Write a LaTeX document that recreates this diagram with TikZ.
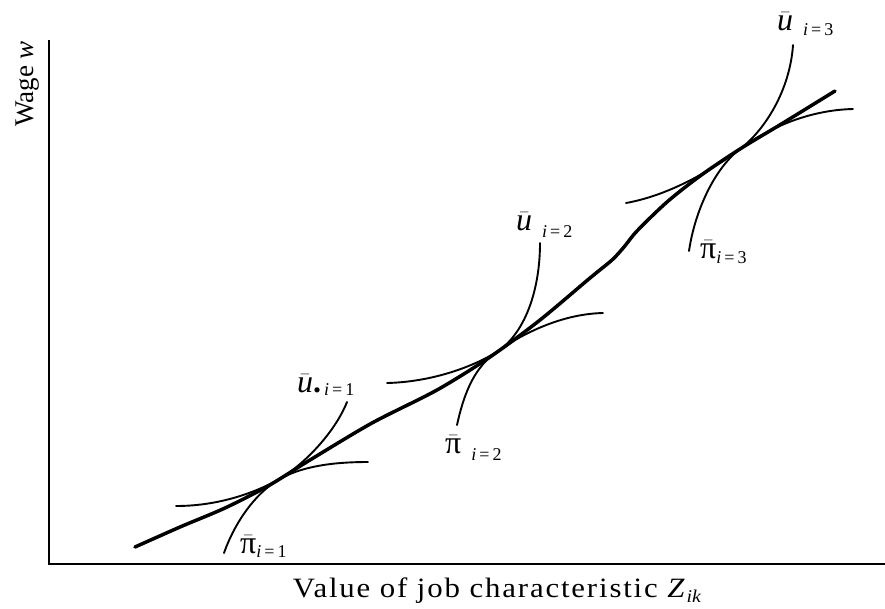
\documentclass[tikz,border=0pt]{standalone}
\usepackage{fontspec}
\setmainfont{Liberation Serif}
\newcommand{\myubar}{$\bar{\mbox{\itshape u}}$}
\newcommand{\mypibar}{$\bar{\mbox{π}}$}
\newcommand{\mysub}[2]{\raisebox{-#1pt}{\fontsize{18}{18}\selectfont #2}}
\begin{document}
\begin{tikzpicture}[x=1pt,y=-1pt,
  axisline/.style={line width=1.4pt},
  hedonic/.style={line width=3.5pt, line cap=round},
  thincurve/.style={line width=1.9pt, line cap=round},
  lbl/.style={font=\fontsize{32}{32}\selectfont, inner sep=0pt, anchor=base west}]
\useasboundingbox (0,0) rectangle (885,608);
% axes
\coordinate (top) at (49,40);
\coordinate (origin) at (49,564);
\coordinate (right) at (885,564);
\draw[axisline] (top) -- (origin) -- (right);
\node[font=\fontsize{27}{27}\selectfont, inner sep=0pt, rotate=90, anchor=base] (ylab) at (33,84) {Wage \textit{w}};
\node[font=\fontsize{28}{28}\selectfont\addfontfeature{LetterSpace=6}, inner sep=0pt, anchor=base, xscale=1.1] (xlab) at (497,597) {Value of job characteristic \textit{Z}\raisebox{-5pt}{\fontsize{18}{18}\selectfont\addfontfeature{LetterSpace=0}\textit{ik}}};
% hedonic wage curve
\draw[hedonic] plot[smooth, tension=0.5] coordinates {(135,547) (180,527) (225,508) (268,486) (310,460) (372,423) (437,390) (490,357) (540,320) (590,278) (612,260) (624,247) (637,231) (667,202) (700,176) (740,149) (783,123) (835,91)};
% i=1
\coordinate (T1) at (278,480);
\draw[thincurve] (176,506) .. controls (215,506) and (250,495) .. (T1) .. controls (305,464) and (335,432) .. (347,402);
\draw[thincurve] (224,553) .. controls (235,522) and (255,494) .. (T1) .. controls (300,467) and (330,462) .. (368,462);
% i=2
\coordinate (T2) at (495,353);
\draw[thincurve] (387,383) .. controls (430,382) and (470,368) .. (T2) .. controls (525,335) and (540,290) .. (540,243);
\draw[thincurve] (457,425) .. controls (463,398) and (472,370) .. (T2) .. controls (520,335) and (560,314) .. (603,313);
% i=3
\coordinate (T3) at (740,149);
\draw[thincurve] (626,203) .. controls (665,196) and (705,175) .. (T3) .. controls (765,130) and (790,90) .. (793,45);
\draw[thincurve] (689,251) .. controls (695,210) and (715,168) .. (T3) .. controls (770,127) and (810,110) .. (853,109);
% labels
\node[lbl] (u3) at (777,30) {\myubar\hspace{10pt}\mysub{5}{\textit{i}\,=\,3}};
\node[lbl] (p3) at (700,258) {\mypibar\mysub{5}{\textit{i}\,=\,3}};
\node[lbl] (u2) at (516,230) {\myubar\hspace{10pt}\mysub{7}{\textit{i}\,=\,2}};
\node[lbl] (p2) at (445,453) {\mypibar\hspace{10pt}\mysub{7}{\textit{i}\,=\,2}};
\node[lbl] (u1) at (297,392) {\myubar\textbf{.}\hspace{3pt}\mysub{3}{\textit{i}\,=\,1}};
\node[lbl] (p1) at (240,553) {\mypibar\mysub{4}{\textit{i}\,=\,1}};
\end{tikzpicture}
\end{document}
